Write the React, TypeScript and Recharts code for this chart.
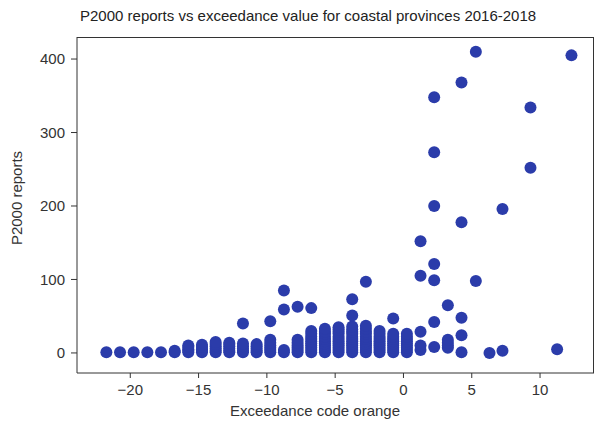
import React from 'react';
import { ScatterChart, Scatter, XAxis, YAxis } from 'recharts';

// Exceedance value of each column of points
const columnX = [
  -21.75, -20.75, -19.75, -18.75, -17.75, -16.75, -15.75, -14.75, -13.75, -12.75,
  -11.75, -10.75, -9.75, -8.75, -7.75, -6.75, -5.75, -4.75, -3.75, -2.75,
  -1.75, -0.75, 0.25, 1.25, 2.25, 3.25, 4.25, 5.3, 6.3, 7.25, 9.3, 11.25, 12.3,
];

// P2000 report counts in each column
const columnReports = [
  [1], [1], [1], [1], [1], [1, 3],
  [1, 3, 5, 8, 10],
  [1, 3, 5, 8, 11],
  [1, 3, 6, 9, 12, 15],
  [1, 3, 6, 9, 12, 14],
  [1, 3, 6, 9, 13, 40],
  [1, 3, 6, 9, 12],
  [1, 4, 7, 10, 14, 18, 43],
  [1, 4, 59, 85],
  [1, 4, 7, 10, 14, 18, 63],
  [1, 4, 7, 10, 13, 16, 19, 22, 26, 30, 61],
  [1, 4, 7, 10, 13, 16, 19, 22, 26, 29, 33],
  [1, 4, 7, 10, 13, 16, 19, 22, 26, 29, 32, 35],
  [1, 4, 7, 10, 13, 16, 19, 22, 26, 29, 32, 36, 51, 73],
  [1, 4, 7, 10, 13, 16, 19, 22, 26, 29, 33, 37, 97],
  [1, 4, 7, 10, 13, 16, 19, 22, 26, 30],
  [1, 4, 7, 10, 13, 16, 19, 22, 26, 47],
  [1, 4, 7, 10, 13, 16, 19, 22, 26],
  [4, 10, 29, 105, 152],
  [8, 42, 99, 121, 200, 273, 348],
  [7, 10, 14, 18, 65],
  [1, 24, 48, 178, 368],
  [98, 410],
  [0],
  [3, 196],
  [252, 334],
  [5],
  [405],
];

const xTicks = [-20, -15, -10, -5, 0, 5, 10];
const yTicks = [0, 100, 200, 300, 400];
const xDomain = [-23.9, 13.95];
const yDomain = [-27.3, 430];

const title = 'P2000 reports vs exceedance value for coastal provinces 2016-2018';
const xLabel = 'Exceedance code orange';
const yLabel = 'P2000 reports';

const points = columnX.flatMap((x, i) => columnReports[i].map((y) => ({ x, y })));

const FONT = '"Liberation Sans", Arial, Helvetica, sans-serif';
const INK = '#333333';
const DOT = '#2b3caa';

// layout of the chart
const W = 596;
const H = 421;
const M = { top: 37, right: 2, bottom: 0, left: 0 };
const Y_AXIS_W = 77;
const X_AXIS_H = 48;

const fmt = (v: number) => (v < 0 ? '\u2212' + Math.abs(v) : String(v));

const Dot = (p: any) => <circle cx={p.cx} cy={p.cy} r={6} fill={DOT} />;

export default function App() {
  const tickStyle = { fill: INK, fontSize: 15, fontFamily: FONT };
  const plotX = M.left + Y_AXIS_W;
  const plotY = M.top;
  const plotW = W - M.left - M.right - Y_AXIS_W;
  const plotH = H - M.top - M.bottom - X_AXIS_H;
  return (
    <div style={{ position: 'absolute', left: 0, top: 0, width: W, height: H, background: '#fff' }}>
      <ScatterChart width={W} height={H} margin={{ ...M }}>
        <XAxis
          type="number"
          dataKey="x"
          domain={xDomain}
          ticks={xTicks}
          allowDataOverflow
          tickFormatter={fmt}
          height={X_AXIS_H}
          tickSize={5}
          tickMargin={6}
          stroke={INK}
          tick={tickStyle}
        />
        <YAxis
          type="number"
          dataKey="y"
          domain={yDomain}
          ticks={yTicks}
          allowDataOverflow
          width={Y_AXIS_W}
          tickSize={6}
          tickMargin={6}
          stroke={INK}
          tick={tickStyle}
        />
        <Scatter data={points} shape={Dot} isAnimationActive={false} />
      </ScatterChart>
      <div
        style={{
          position: 'absolute',
          left: plotX,
          top: plotY - 0.5,
          width: plotW,
          height: plotH,
          borderTop: `1px solid ${INK}`,
          borderRight: `1px solid ${INK}`,
          boxSizing: 'border-box',
          pointerEvents: 'none',
          zIndex: 5,
        }}
      />
      <svg
        width={W}
        height={H}
        style={{ position: 'absolute', left: 0, top: 0, pointerEvents: 'none', zIndex: 6 }}
      >
        <text x={80} y={20.5} fontSize={15} fontFamily={FONT} fill="#222">
          {title}
        </text>
        <text x={315} y={416} fontSize={15} fontFamily={FONT} fill={INK} textAnchor="middle">
          {xLabel}
        </text>
        <text
          transform="translate(22,198) rotate(-90)"
          fontSize={15}
          fontFamily={FONT}
          fill={INK}
          textAnchor="middle"
        >
          {yLabel}
        </text>
      </svg>
    </div>
  );
}
